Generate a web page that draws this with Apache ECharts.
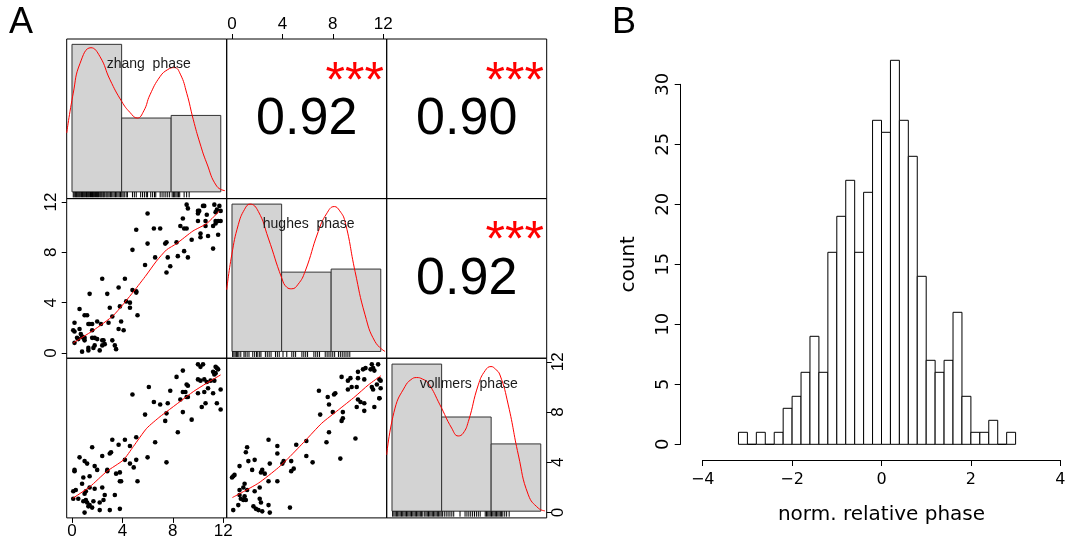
<!DOCTYPE html>
<html>
<head>
<meta charset="utf-8">
<script src="https://cdn.jsdelivr.net/npm/echarts@6/dist/echarts.min.js"></script>
<style>
html,body{margin:0;padding:0;background:#fff}
#chart{width:1068px;height:544px}
</style>
</head>
<body>
<div id="chart"></div>
<script>
// ---------- panel A data ----------
const varLabels = ['zhang  phase', 'hughes  phase', 'vollmers  phase']
const corrPairs = [[0, 1], [0, 2], [1, 2]]
const corrValues = ['0.92', '0.90', '0.92']
const corrStars = ['***', '***', '***']
const axisTicks = [0, 4, 8, 12]

// histogram breaks and (scaled) densities on the diagonal
const histBreaks = [0, 3.94, 7.87, 11.81]
const zhangHist = [0.965, 0.483, 0.50]
const hughesHist = [0.964, 0.519, 0.539]
const vollmersHist = [0.962, 0.616, 0.44]

// kernel density curves
const zhangDensity = [[-0.42,0.385],[0.1,0.646],[0.64,0.841],[1.51,0.943],[2.22,0.885],[3.02,0.733],[3.95,0.591],[4.6,0.52],[5.18,0.483],[5.7,0.53],[6.19,0.635],[6.99,0.754],[7.6,0.8],[8.12,0.813],[8.6,0.77],[9.11,0.645],[9.63,0.472],[10.15,0.32],[10.69,0.189],[11.49,0.037],[12.14,0.008]]
const hughesDensity = [[-0.42,0.404],[-0.02,0.632],[0.5,0.829],[1.0,0.93],[1.43,0.964],[2.09,0.916],[2.88,0.742],[3.95,0.48],[4.35,0.42],[4.74,0.41],[5.25,0.44],[5.8,0.523],[6.85,0.785],[7.5,0.9],[8.12,0.948],[8.55,0.92],[8.97,0.85],[9.77,0.523],[10.56,0.24],[11.35,0.065],[12.15,0.0]]
const vollmersDensity = [[-0.42,0.369],[0.24,0.674],[1.03,0.815],[1.5,0.86],[1.96,0.874],[2.4,0.865],[2.88,0.837],[3.81,0.695],[4.74,0.543],[5.26,0.492],[5.65,0.51],[6.06,0.586],[6.85,0.826],[7.4,0.92],[7.86,0.946],[8.2,0.93],[8.57,0.891],[9.23,0.695],[10.03,0.368],[10.82,0.107],[11.61,0.02],[12.14,0.002]]

// rug marks
const zhangRug = [0.1,0.18,0.27,0.35,0.42,0.5,0.58,0.66,0.75,0.83,0.9,0.98,1.06,1.15,1.22,1.3,1.38,1.47,1.55,1.63,1.7,1.78,1.87,1.95,2.03,2.1,2.2,2.28,2.36,2.45,2.52,2.6,2.7,2.78,2.86,2.95,3.05,3.15,3.25,3.35,3.45,3.55,3.65,3.75,3.85,3.95,4.05,4.15,4.3,4.4,4.8,4.95,5.1,5.45,5.6,5.75,5.9,6.0,6.25,6.4,6.55,6.65,7.0,7.15,7.3,7.45,7.6,7.75,7.95,8.05,8.15,8.25,8.35,8.45,8.55,8.9,9.1,9.3]
const hughesRug = [0.05,0.15,0.25,0.35,0.45,0.55,0.7,0.95,1.05,1.2,1.35,1.65,1.8,1.95,2.05,2.2,2.3,2.65,2.8,2.95,3.1,3.45,3.6,3.75,4.05,4.35,4.75,4.9,5.05,5.55,5.7,5.85,6.0,6.5,6.65,6.8,6.95,7.4,7.55,7.7,7.85,8.0,8.15,8.45,8.6,8.75,8.9,9.05,9.2,9.35]
const vollmersRug = [0.05,0.15,0.25,0.35,0.45,0.55,0.65,0.75,0.85,0.95,1.05,1.15,1.25,1.35,1.45,1.55,1.65,1.75,1.85,1.95,2.05,2.15,2.25,2.35,2.45,2.6,2.7,2.8,2.9,3.0,3.1,3.2,3.3,3.4,3.5,3.6,3.7,3.8,3.9,4.0,4.15,4.3,4.45,4.6,4.75,4.9,5.4,5.8,5.95,6.1,6.25,6.4,6.55,6.7,6.85,7.0,7.4,7.5,7.6,7.7,7.8,7.9,8.0,8.1,8.2,8.3,8.4,8.5,8.6,8.7,8.8,8.95,9.1,9.3]

// scatter panels [x, y]
const zhangHughes = [[6.0,11.1],[9.1,11.8],[9.2,11.5],[5.1,9.8],[6.5,9.9],[7.0,9.9],[6.0,8.7],[4.8,8.2],[7.4,8.7],[7.5,8.8],[8.3,8.8],[6.6,7.6],[5.8,7.0],[7.6,7.6],[7.8,6.9],[7.5,6.4],[8.4,7.7],[9.2,7.6],[8.9,8.1],[8.6,10.1],[8.8,10.7],[8.9,9.9],[9.1,9.9],[9.5,9.0],[10.0,11.3],[10.1,11.3],[10.4,11.7],[10.5,11.7],[10.0,11.1],[10.7,11.0],[11.3,11.8],[11.7,11.7],[11.5,11.4],[11.8,11.3],[11.4,11.2],[10.0,10.5],[10.6,10.5],[11.4,10.5],[11.6,10.5],[11.8,10.5],[10.2,9.5],[10.2,9.2],[10.8,9.3],[11.6,9.4],[10.6,10.1],[11.2,10.1],[11.4,10.3],[11.2,8.3],[2.4,5.9],[4.2,5.9],[2.8,4.7],[3.7,5.2],[1.4,4.7],[4.8,5.0],[5.1,4.8],[5.1,4.9],[4.3,4.1],[4.6,4.0],[4.6,3.6],[5.2,3.0],[3.0,3.6],[3.8,3.7],[0.6,3.5],[1.0,3.0],[1.2,3.0],[1.3,2.3],[1.4,2.3],[1.6,2.3],[2.0,2.5],[2.3,2.3],[3.2,2.9],[3.9,2.5],[2.9,2.4],[0.2,2.4],[0.1,1.8],[0.2,1.7],[0.4,1.2],[0.5,1.1],[1.0,1.2],[0.9,1.2],[1.0,1.0],[0.8,1.3],[1.6,1.8],[1.6,1.2],[1.8,1.2],[2.0,1.1],[2.4,1.0],[2.5,1.0],[2.6,0.7],[2.4,0.6],[1.8,0.6],[1.3,0.4],[1.7,0.4],[3.2,1.0],[3.4,0.6],[3.5,0.3],[3.7,1.9],[4.1,1.8],[0.8,0.1],[1.3,0.2],[2.2,0.2],[0.2,0.8],[0.6,1.9],[0.7,1.5]]
const zhangVollmers = [[10.0,11.8],[10.2,11.6],[10.4,11.8],[11.4,11.6],[11.5,11.5],[11.2,11.2],[11.6,11.4],[11.4,11.1],[11.3,11.0],[8.8,11.3],[8.3,10.8],[10.0,10.6],[10.2,10.5],[10.5,10.6],[10.7,10.4],[11.0,10.5],[11.3,10.5],[9.1,10.2],[9.0,9.6],[9.2,10.1],[8.8,9.6],[8.6,9.0],[9.1,9.2],[9.2,9.2],[10.0,9.5],[10.5,9.6],[11.2,9.5],[10.8,9.9],[11.8,9.8],[11.5,8.7],[11.8,8.2],[10.6,8.7],[10.3,8.4],[9.5,7.4],[8.8,8.0],[6.1,10.0],[4.8,9.4],[6.5,8.8],[7.0,8.6],[7.6,8.7],[7.8,9.7],[7.4,7.3],[7.5,7.9],[5.8,7.8],[6.6,5.6],[8.4,6.4],[7.5,4.0],[6.0,4.4],[5.1,6.0],[4.2,5.8],[3.7,5.4],[3.2,5.8],[3.0,4.7],[3.1,4.8],[4.6,5.3],[4.2,4.2],[4.6,3.9],[4.9,3.6],[5.1,4.2],[5.2,2.5],[3.8,3.2],[3.9,2.5],[3.5,3.1],[3.8,2.5],[2.8,3.4],[2.8,3.3],[1.6,5.2],[2.4,4.5],[0.6,4.4],[1.0,4.1],[1.2,3.9],[1.8,3.7],[2.0,3.4],[1.4,2.9],[0.9,2.8],[0.8,2.3],[0.2,3.4],[0.2,3.3],[0.1,1.7],[0.3,1.8],[0.5,1.1],[0.1,1.1],[1.1,1.7],[1.0,1.5],[1.4,2.0],[1.8,1.9],[2.4,2.0],[2.6,1.4],[2.5,1.0],[2.2,0.8],[1.7,0.9],[1.1,1.0],[1.2,0.8],[1.4,0.6],[1.6,0.4],[1.0,0.0],[2.2,0.2],[3.0,0.2],[3.8,0.3],[3.4,1.4],[0.9,0.9],[1.3,0.5]]
const hughesVollmers = [[11.1,11.8],[11.2,11.5],[11.6,11.8],[10.6,11.5],[11.0,11.4],[11.3,11.3],[11.7,10.6],[11.8,10.5],[11.5,10.2],[11.8,9.9],[11.7,9.1],[11.2,9.8],[11.1,10.0],[10.4,11.4],[10.0,11.2],[10.0,10.7],[10.5,10.6],[9.4,10.7],[9.2,10.5],[8.7,10.8],[9.5,10.0],[9.2,9.8],[9.9,10.0],[10.0,9.0],[10.2,8.8],[9.9,8.4],[10.5,8.7],[10.5,8.1],[11.3,8.4],[11.7,9.1],[6.9,9.7],[7.6,9.2],[8.1,9.4],[8.2,9.5],[7.7,8.6],[7.0,7.8],[8.0,8.0],[8.8,8.0],[8.8,7.5],[8.7,7.3],[9.8,5.9],[8.6,4.3],[7.7,6.4],[7.5,5.6],[6.4,4.0],[5.9,5.7],[5.9,4.5],[5.1,5.4],[4.7,4.1],[4.9,3.5],[4.7,3.3],[4.1,4.1],[4.0,3.9],[3.6,4.7],[3.6,5.3],[2.9,5.8],[3.0,3.9],[2.9,2.5],[3.6,2.5],[2.4,3.4],[2.6,3.1],[2.3,3.2],[1.6,3.4],[1.8,4.2],[1.2,5.2],[1.1,4.8],[1.3,4.1],[0.6,3.7],[0.0,2.8],[0.2,3.0],[0.1,2.9],[1.0,2.3],[0.9,2.0],[1.2,1.8],[0.6,1.4],[0.7,1.1],[0.9,1.0],[1.1,1.0],[1.0,1.3],[0.6,1.8],[0.5,0.6],[0.1,0.2],[1.8,1.7],[2.2,2.0],[2.2,1.1],[2.3,0.8],[1.9,0.3],[1.7,0.5],[2.1,0.2],[2.4,0.1],[2.9,0.6],[3.0,0.0],[4.6,0.4]]

// smoothers
const zhangHughesLoess = [[0.1,0.8],[1.7,1.8],[3.3,3.0],[4.9,4.9],[5.9,6.2],[6.7,7.3],[7.5,8.2],[8.3,8.7],[9.6,9.7],[10.7,10.3],[11.7,11.3]]
const zhangVollmersLoess = [[0.06,1.14],[1.43,2.07],[2.75,3.27],[4.08,4.19],[4.87,5.26],[5.93,6.71],[6.99,7.64],[7.52,8.04],[8.58,8.84],[9.63,9.63],[10.69,10.3],[11.8,10.96]]
const hughesVollmersLoess = [[0.03,1.2],[2.09,2.34],[3.68,3.58],[4.6,4.46],[5.8,5.71],[7.12,7.11],[8.44,8.17],[9.76,9.23],[10.82,10.16],[11.83,10.9]]

// ---------- panel B data ----------
const binLefts = [-3.2,-3.0,-2.8,-2.6,-2.4,-2.2,-2.0,-1.8,-1.6,-1.4,-1.2,-1.0,-0.8,-0.6,-0.4,-0.2,0,0.2,0.4,0.6,0.8,1.0,1.2,1.4,1.6,1.8,2.0,2.2,2.4,2.6,2.8]
const binCounts = [1,0,1,0,1,3,4,6,9,6,16,19,22,16,21,27,26,32,27,24,14,7,6,7,11,4,1,1,2,0,1]
const BIN_W = 0.2

// ---------- layout ----------
const PX = [66.7, 226.7, 386.7], PY = [39, 198.6, 358.3], PW = 160, PH = 159.6
const AX_MIN = -0.42, AX_MAX = 12.28
const DIAG_MIN = -0.044, DIAG_MAX = 1
const FONT_A = 'Liberation Sans, Arial, sans-serif'
const FONT_B = 'DejaVu Sans, sans-serif'

const hists = [zhangHist, hughesHist, vollmersHist]
const densities = [zhangDensity, hughesDensity, vollmersDensity]
const rugs = [zhangRug, hughesRug, vollmersRug]
const lower = {'1,0': [zhangHughes, zhangHughesLoess], '2,0': [zhangVollmers, zhangVollmersLoess], '2,1': [hughesVollmers, hughesVollmersLoess]}

function renderBar(fill, stroke){
  return function(params, api){
    const p0 = api.coord([api.value(0), api.value(2)])
    const p1 = api.coord([api.value(1), 0])
    return {
      type: 'rect',
      shape: {x: p0[0], y: p0[1], width: p1[0] - p0[0], height: p1[1] - p0[1]},
      style: {fill: fill, stroke: stroke, lineWidth: 1}
    }
  }
}
function renderRug(params, api){
  const p = api.coord([api.value(0), 0])
  return {
    type: 'line',
    shape: {x1: p[0], y1: p[1], x2: p[0], y2: p[1] + 5.5},
    style: {stroke: '#000', lineWidth: 1}
  }
}

let grid = [], xAxis = [], yAxis = [], series = [], graphic = []
const tickStyle = {show: true, length: 5, inside: false, lineStyle: {color: '#000', width: 1}, customValues: axisTicks}
const labelA = (margin) => ({customValues: axisTicks, margin: margin, fontSize: 17, color: '#000', fontFamily: FONT_A})

for(let r = 0; r < 3; r++){
  for(let c = 0; c < 3; c++){
    const i = r * 3 + c
    grid.push({left: PX[c], top: PY[r], width: PW, height: PH, show: true,
      borderColor: '#000', borderWidth: 1, backgroundColor: 'rgba(0,0,0,0)',
      containLabel: false, outerBoundsMode: 'none'})
    const showX = (r === 0 && c === 1) || (r === 2 && c === 0)
    xAxis.push({gridIndex: i, type: 'value', min: AX_MIN, max: AX_MAX, show: showX,
      position: r === 0 ? 'top' : 'bottom',
      axisLine: {show: false, onZero: false}, splitLine: {show: false}, axisTick: tickStyle,
      axisLabel: labelA(r === 0 ? 6 : 5)})
    const showY = r === 1 && c === 0
    yAxis.push({gridIndex: i, type: 'value',
      min: r === c ? DIAG_MIN : AX_MIN, max: r === c ? DIAG_MAX : AX_MAX,
      show: showY, position: 'left',
      axisLine: {show: false, onZero: false}, splitLine: {show: false}, axisTick: tickStyle,
      axisLabel: Object.assign(labelA(7), {rotate: 90})})

    if(r === c){
      series.push({type: 'custom', xAxisIndex: i, yAxisIndex: i, clip: false,
        renderItem: renderBar('#d3d3d3', '#333'), encode: {x: [0, 1], y: 2},
        data: hists[r].map((h, k) => [histBreaks[k], histBreaks[k + 1], h])})
      series.push({type: 'line', xAxisIndex: i, yAxisIndex: i, data: densities[r],
        smooth: 0.5, showSymbol: false, clip: true, lineStyle: {color: '#ff0000', width: 1}})
      series.push({type: 'custom', xAxisIndex: i, yAxisIndex: i, clip: false,
        renderItem: renderRug, encode: {x: 0}, data: rugs[r].map(v => [v])})
      graphic.push({type: 'text', x: PX[c] + PW / 2 + 2, y: PY[r] + 25.5, silent: true, z: 100,
        style: {text: varLabels[r], font: '14px ' + FONT_A, fill: '#1a1a1a',
          align: 'center', verticalAlign: 'middle', textAlign: 'center', textVerticalAlign: 'middle'}})
    } else if(r > c){
      const pair = lower[r + ',' + c]
      series.push({type: 'scatter', xAxisIndex: i, yAxisIndex: i, data: pair[0], symbolSize: 4.6,
        itemStyle: {color: '#000', opacity: 1}})
      series.push({type: 'line', xAxisIndex: i, yAxisIndex: i, data: pair[1], smooth: 0.2,
        showSymbol: false, lineStyle: {color: '#ff0000', width: 1}})
    }
  }
}

corrPairs.forEach(([r, c], k) => {
  graphic.push({type: 'text', x: PX[c] + PW / 2, y: PY[r] + PH / 2 + 1, silent: true, z: 100,
    style: {text: corrValues[k], font: '52px ' + FONT_A, fill: '#000',
      align: 'center', verticalAlign: 'middle', textAlign: 'center', textVerticalAlign: 'middle'}})
  graphic.push({type: 'text', x: PX[c] + 0.8 * PW, y: PY[r] + 0.2 * PH + 12, silent: true, z: 100,
    style: {text: corrStars[k], font: '50px ' + FONT_A, fill: '#ff0000',
      align: 'center', verticalAlign: 'middle', textAlign: 'center', textVerticalAlign: 'middle'}})
})

graphic.push({type: 'text', x: 9, y: 5, silent: true, style: {text: 'A', font: '36px ' + FONT_A, fill: '#000'}})
graphic.push({type: 'text', x: 612, y: 5, silent: true, style: {text: 'B', font: '36px ' + FONT_A, fill: '#000'}})

// panel B
grid.push({left: 702.7, top: 84.3, width: 357.6, height: 360, show: false,
  containLabel: false, outerBoundsMode: 'none'})
xAxis.push({gridIndex: 9, type: 'value', min: -4, max: 4, interval: 2, offset: 15.7,
  name: 'norm. relative phase', nameLocation: 'middle', nameGap: 45,
  nameTextStyle: {fontSize: 20, color: '#000', fontFamily: FONT_B},
  axisLine: {show: true, onZero: false, lineStyle: {color: '#000', width: 1}},
  axisTick: {show: true, length: 6, lineStyle: {color: '#000'}}, splitLine: {show: false},
  axisLabel: {margin: 12, fontSize: 16, color: '#000', fontFamily: FONT_B,
    formatter: v => String(v).replace('-', '\u2212')}})
yAxis.push({gridIndex: 9, type: 'value', min: 0, max: 30, interval: 5, offset: 22,
  name: 'count', nameLocation: 'middle', nameGap: 42, nameRotate: 90,
  nameTextStyle: {fontSize: 20, color: '#000', fontFamily: FONT_B},
  axisLine: {show: true, onZero: false, lineStyle: {color: '#000', width: 1}},
  axisTick: {show: true, length: 6, lineStyle: {color: '#000'}}, splitLine: {show: false},
  axisLabel: {rotate: 90, margin: 8, fontSize: 18, color: '#000', fontFamily: FONT_B}})
series.push({type: 'custom', xAxisIndex: 9, yAxisIndex: 9, clip: false,
  renderItem: renderBar('#fff', '#000'), encode: {x: [0, 1], y: 2},
  data: binLefts.map((x, k) => [x, x + BIN_W, binCounts[k]])})

// right-hand tick axis for the vollmers row (value scale, not the density scale)
yAxis.push({gridIndex: 8, type: 'value', min: AX_MIN, max: AX_MAX, position: 'right',
  axisLine: {show: false, onZero: false}, splitLine: {show: false}, axisTick: tickStyle,
  axisLabel: Object.assign(labelA(3), {rotate: 90})})

const chart = echarts.init(document.getElementById('chart'))
chart.setOption({
  animation: false,
  backgroundColor: '#fff',
  grid, xAxis, yAxis, series, graphic
})
</script>
</body>
</html>
